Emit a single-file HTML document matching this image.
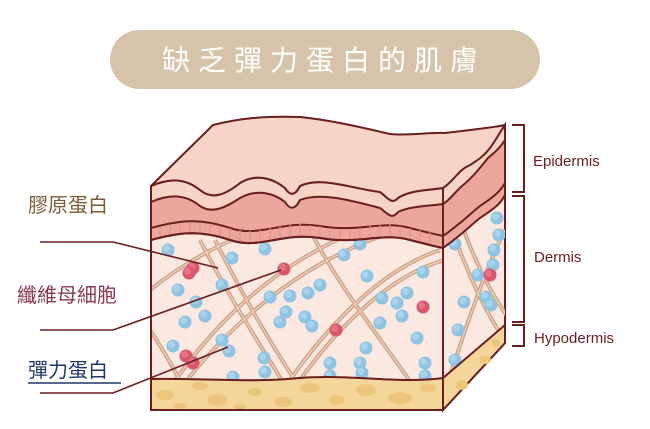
<!DOCTYPE html>
<html><head><meta charset="utf-8"><style>
html,body{margin:0;padding:0;background:#fff;}
svg{display:block;}
</style></head><body>
<svg width="650" height="429" viewBox="0 0 650 429" xmlns="http://www.w3.org/2000/svg">
<defs>
<clipPath id="front"><path d="M151,240 C180,232 200,230 230,240 C260,250 280,232 320,238 C360,245 380,232 410,240 C425,244 435,246 443,248 L443,410 L151,410 Z"/></clipPath>
<clipPath id="rightc"><path d="M443,248 C460,236 470,226 480,218 C492,210 500,205 505,195 L505,343 L443,410 Z"/></clipPath>
<g id="cell"><circle r="6.5" fill="#8ec3e2"/><circle cx="-1.5" cy="-1.5" r="3.5" fill="#a9d3ec"/></g>
<g id="rcell"><circle r="6.5" fill="#d9566b"/><circle cx="-1.5" cy="-1.5" r="3.5" fill="#e47486"/></g>
</defs>

<rect x="110" y="30" width="430" height="59" rx="29.5" fill="#d5c4a9"/>
<text x="324" y="70" text-anchor="middle" font-family="Liberation Sans, 'Noto Sans CJK TC', sans-serif" font-size="28" fill="#fff" letter-spacing="8">缺乏彈力蛋白的肌膚</text>

<path d="M443,188 L505,125 L505,343 L443,410 Z" fill="#fbe9e1" stroke="#6b1e1e" stroke-width="2"/>
<rect x="151" y="186" width="292" height="224" fill="#fbe9e1"/>

<g clip-path="url(#front)" fill="none">
 <g stroke="#d0a283" stroke-width="4">
  <path d="M150,290 C200,250 250,230 300,215"/>
  <path d="M155,410 C200,340 260,270 360,230"/>
  <path d="M165,410 C220,330 300,260 400,230"/>
  <path d="M270,410 C320,330 380,270 440,250"/>
  <path d="M280,410 C330,330 390,275 445,260"/>
  <path d="M200,240 C230,300 270,360 300,410"/>
  <path d="M215,240 C245,300 280,360 315,410"/>
  <path d="M310,230 C340,290 390,350 430,410"/>
  <path d="M150,330 C170,360 185,390 195,410"/>
 </g>
 <g stroke="#f3dccd" stroke-width="1">
  <path d="M150,290 C200,250 250,230 300,215"/>
  <path d="M155,410 C200,340 260,270 360,230"/>
  <path d="M165,410 C220,330 300,260 400,230"/>
  <path d="M270,410 C320,330 380,270 440,250"/>
  <path d="M280,410 C330,330 390,275 445,260"/>
  <path d="M200,240 C230,300 270,360 300,410"/>
  <path d="M215,240 C245,300 280,360 315,410"/>
  <path d="M310,230 C340,290 390,350 430,410"/>
  <path d="M150,330 C170,360 185,390 195,410"/>
 </g>
</g>
<g clip-path="url(#rightc)" fill="none">
 <g stroke="#d0a283" stroke-width="4">
  <path d="M445,390 C465,330 485,270 505,230"/>
  <path d="M452,230 C470,280 490,320 505,340"/>
  <path d="M460,220 C478,270 495,300 510,320"/>
 </g>
 <g stroke="#f3dccd" stroke-width="1">
  <path d="M445,390 C465,330 485,270 505,230"/>
  <path d="M452,230 C470,280 490,320 505,340"/>
  <path d="M460,220 C478,270 495,300 510,320"/>
 </g>
</g>

<g clip-path="url(#front)">
<use href="#cell" x="168" y="250"/><use href="#cell" x="232" y="258"/><use href="#cell" x="265" y="249"/>
<use href="#cell" x="178" y="290"/><use href="#cell" x="222" y="285"/><use href="#cell" x="270" y="297"/>
<use href="#cell" x="290" y="296"/><use href="#cell" x="308" y="293"/><use href="#cell" x="320" y="285"/>
<use href="#cell" x="196" y="302"/><use href="#cell" x="205" y="316"/><use href="#cell" x="185" y="322"/>
<use href="#cell" x="344" y="255"/><use href="#cell" x="367" y="276"/><use href="#cell" x="360" y="244"/>
<use href="#cell" x="286" y="312"/><use href="#cell" x="280" y="322"/><use href="#cell" x="305" y="317"/>
<use href="#cell" x="312" y="326"/><use href="#cell" x="382" y="298"/><use href="#cell" x="397" y="303"/>
<use href="#cell" x="407" y="293"/><use href="#cell" x="402" y="316"/><use href="#cell" x="380" y="323"/>
<use href="#cell" x="423" y="272"/><use href="#cell" x="417" y="338"/><use href="#cell" x="222" y="340"/>
<use href="#cell" x="229" y="351"/><use href="#cell" x="173" y="346"/><use href="#cell" x="264" y="358"/>
<use href="#cell" x="265" y="372"/><use href="#cell" x="330" y="363"/><use href="#cell" x="360" y="363"/>
<use href="#cell" x="366" y="348"/><use href="#cell" x="362" y="373"/><use href="#cell" x="425" y="363"/>
<use href="#cell" x="425" y="376"/><use href="#cell" x="233" y="377"/><use href="#cell" x="330" y="376"/>
<use href="#rcell" x="193" y="268"/><use href="#rcell" x="189" y="273"/>
<use href="#rcell" x="284" y="269"/><use href="#rcell" x="423" y="307"/><use href="#rcell" x="336" y="330"/>
<use href="#rcell" x="186" y="356"/><use href="#rcell" x="193" y="363"/>
</g>
<g clip-path="url(#rightc)">
<use href="#cell" x="497" y="218"/><use href="#cell" x="499" y="235"/><use href="#cell" x="494" y="250"/>
<use href="#cell" x="493" y="265"/><use href="#cell" x="478" y="275"/><use href="#cell" x="464" y="302"/>
<use href="#cell" x="486" y="297"/><use href="#cell" x="491" y="305"/><use href="#cell" x="458" y="330"/>
<use href="#cell" x="455" y="360"/><use href="#cell" x="455" y="244"/>
<use href="#rcell" x="490" y="275"/>
</g>

<path d="M151,379 C200,378 250,383 300,378 C350,374 400,384 443,378 L443,410 L151,410 Z" fill="#f5d69a" stroke="#6b1e1e" stroke-width="2"/>
<g fill="#ecc57b">
<ellipse cx="165" cy="395" rx="9" ry="5"/><ellipse cx="200" cy="386" rx="8" ry="4"/><ellipse cx="217" cy="400" rx="10" ry="6"/>
<ellipse cx="255" cy="392" rx="7" ry="4"/><ellipse cx="283" cy="402" rx="9" ry="5"/><ellipse cx="310" cy="388" rx="10" ry="5"/>
<ellipse cx="337" cy="400" rx="8" ry="5"/><ellipse cx="366" cy="390" rx="10" ry="6"/><ellipse cx="400" cy="398" rx="12" ry="6"/>
<ellipse cx="428" cy="388" rx="8" ry="4"/><ellipse cx="180" cy="406" rx="7" ry="3"/><ellipse cx="240" cy="407" rx="6" ry="2.5"/>
</g>
<path d="M443,378 L505,325 L505,343 L443,410 Z" fill="#f5d69a" stroke="#6b1e1e" stroke-width="2"/>
<g fill="#ecc57b"><ellipse cx="462" cy="385" rx="6" ry="5"/><ellipse cx="485" cy="360" rx="6" ry="4"/><ellipse cx="496" cy="343" rx="4" ry="4"/></g>

<path d="M151,186 C170,178 185,178 200,190 C212,200 225,195 240,183 C258,172 275,180 285,188 C290,196 295,196 300,186 C320,176 350,188 380,192 C388,198 392,205 398,198 C410,190 430,190 443,188
 L443,248 C430,246 420,242 410,240 C380,232 360,245 320,238 C280,232 260,250 230,240 C200,230 180,232 151,240 Z" fill="#eca79d" stroke="#6b1e1e" stroke-width="2"/>
<path d="M151,186 C170,178 185,178 200,190 C212,200 225,195 240,183 C258,172 275,180 285,188 C290,196 295,196 300,186 C320,176 350,188 380,192 C388,198 392,205 398,198 C410,190 430,190 443,188
 L443,204 C430,206 410,206 398,212 C392,220 388,214 380,208 C350,200 320,192 300,200 C295,210 290,210 285,202 C275,194 258,188 240,198 C225,208 212,214 200,206 C185,194 170,194 151,202 Z" fill="#f6d4c6" stroke="#6b1e1e" stroke-width="2"/>
<path d="M151,228 C180,220 200,218 230,228 C260,238 280,220 320,226 C360,233 380,220 410,228 C425,232 435,234 443,236" fill="none" stroke="#6b1e1e" stroke-width="2"/>
<g stroke="#e58d8a" stroke-width="1.2">
<path d="M160,227 v12 M170,225 v12 M180,223 v12 M190,223 v12 M200,223 v12 M210,224 v12 M220,226 v12 M230,228 v12 M240,230 v12 M250,231 v12 M260,230 v12 M270,227 v12 M280,225 v12 M290,224 v12 M300,224 v12 M310,225 v12 M320,226 v12 M330,228 v12 M340,229 v12 M350,229 v12 M360,228 v12 M370,225 v12 M380,223 v12 M390,224 v12 M400,226 v12 M410,228 v12 M420,230 v12 M430,232 v12"/>
</g>
<path d="M151,240 C180,232 200,230 230,240 C260,250 280,232 320,238 C360,245 380,232 410,240 C425,244 435,246 443,248" fill="none" stroke="#6b1e1e" stroke-width="2"/>

<path d="M443,188 C455,180 458,170 470,165 C478,160 485,150 492,140 C498,134 502,130 505,125 L505,195 C500,205 492,210 480,218 C470,226 460,236 443,248 Z" fill="#eca79d" stroke="#6b1e1e" stroke-width="2"/>
<path d="M443,188 C455,180 458,170 470,165 C478,160 485,150 492,140 C498,134 502,130 505,125 L505,140 C500,148 495,152 488,158 C480,168 472,178 462,186 C455,192 450,200 443,204 Z" fill="#f6d4c6" stroke="#6b1e1e" stroke-width="2"/>
<path d="M443,236 C460,224 470,214 480,206 C492,198 500,192 505,183" fill="none" stroke="#6b1e1e" stroke-width="2"/>

<path d="M151,186 L213,125 C240,118 265,116 300,117 C330,120 360,127 390,134 C410,136 430,132 445,133 C470,130 490,128 505,125 C500,132 496,140 490,148 C484,156 478,160 470,165 C458,170 455,180 443,188 C430,190 410,190 398,198 C392,205 388,198 380,192 C350,188 320,176 300,186 C295,196 290,196 285,188 C275,180 258,172 240,183 C225,195 212,200 200,190 C185,178 170,178 151,186 Z" fill="#f6d4c6" stroke="#6b1e1e" stroke-width="2" stroke-linejoin="round"/>

<path d="M151,186 L151,410 L443,410 L443,188" fill="none" stroke="#6b1e1e" stroke-width="2"/>

<g stroke="#6b1e1e" stroke-width="1.6" fill="none">
<path d="M40,242 L113,242 L218,268"/>
<path d="M40,330 L113,330 L281,270"/>
<path d="M40,393 L113,393 L228,347"/>
</g>

<g font-family="Liberation Sans, 'Noto Sans CJK TC', sans-serif" font-size="20">
<text x="28" y="212" fill="#7b5a36">膠原蛋白</text>
<text x="17" y="302" fill="#8d3a4c">纖維母細胞</text>
<text x="28" y="377" fill="#1f3a6a">彈力蛋白</text>
</g>
<line x1="28" y1="383" x2="121" y2="383" stroke="#1f3a6a" stroke-width="1.5"/>

<g stroke="#6b1e1e" stroke-width="2" fill="none">
<path d="M512,125 H524 V192 H512"/>
<path d="M512,196 H524 V322 H512"/>
<path d="M512,325 H524 V346 H512"/>
</g>
<g font-family="Liberation Sans, sans-serif" font-size="15" fill="#6b1e1e">
<text x="533" y="166">Epidermis</text>
<text x="534" y="262">Dermis</text>
<text x="534" y="343">Hypodermis</text>
</g>
</svg>
</body></html>
